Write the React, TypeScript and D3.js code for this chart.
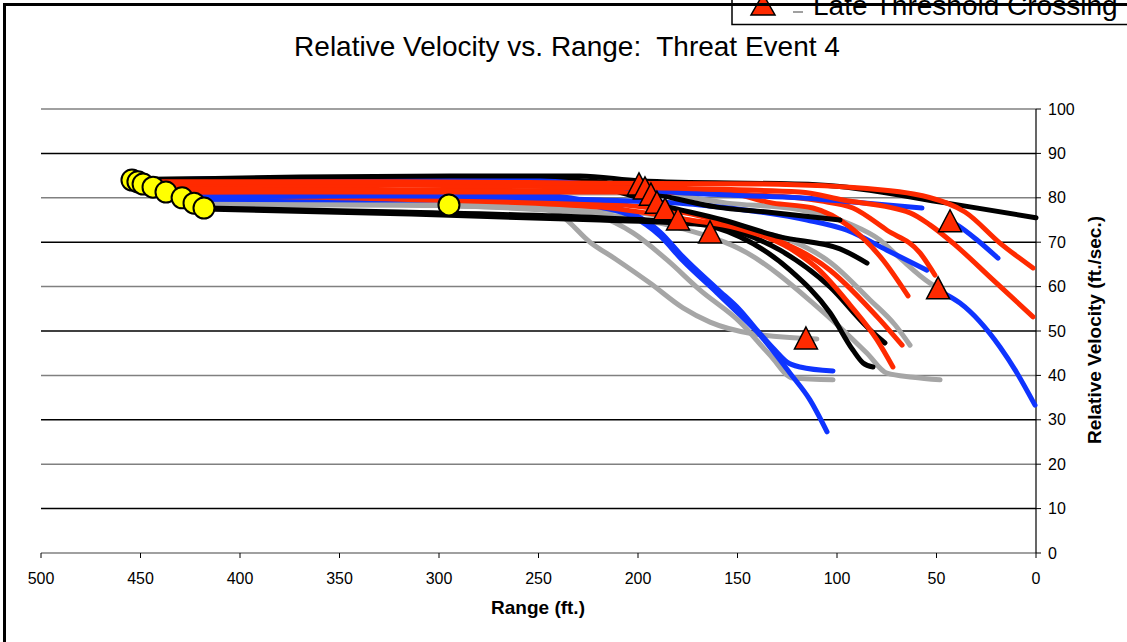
import React from 'react';
import * as d3 from 'd3';

type P = [number, number];

const xTicks = [500, 450, 400, 350, 300, 250, 200, 150, 100, 50, 0];
const yTicks = [0, 10, 20, 30, 40, 50, 60, 70, 80, 90, 100];

// [range ft, relative velocity ft/s]
const black1: P[] = [[454.3, 84.0], [369.8, 84.7], [294.5, 84.9], [229.1, 84.9], [199, 83.8], [108.5, 82.9], [44.7, 78.8], [0, 75.5]];
const red1: P[] = [[451.3, 83.6], [319.6, 83.6], [219.1, 83.3], [138.7, 83.1], [78.4, 81.8], [44.7, 78.8], [35.7, 76.8], [18.1, 69.8], [1.5, 64.2]];
const blue1: P[] = [[454.3, 84.0], [344.7, 84.5], [264.3, 84.2], [219.1, 82.9], [188.9, 81.5], [152.3, 80.6], [118.6, 80.0], [93.5, 79.1], [57.3, 77.7]];
const red2: P[] = [[448.7, 83.1], [319.6, 82.9], [219.1, 82.4], [118.6, 81.3], [97, 79.5], [63.3, 76.6], [53.3, 73.9], [41.7, 69.8], [21.6, 61.5], [1.5, 53.2]];
const gray1: P[] = [[429.1, 80.2], [319.6, 80.6], [244.2, 81.1], [194.0, 81.1], [155.3, 78.8], [118.6, 77.3], [93.5, 74.1], [78.4, 70.5], [68.3, 66.4], [53.3, 60.8], [49.2, 59.7]];
const black2: P[] = [[454.3, 84.2], [269.3, 84.5], [219.1, 83.6], [188.9, 80.6], [160.3, 77.9], [135.2, 76.8], [98.5, 75.0]];
const red3: P[] = [[443.7, 82.4], [319.6, 81.8], [219.1, 81.5], [138.7, 80.6], [108.5, 79.3], [92, 77.7], [74.9, 72.7], [58.3, 67.6], [50.8, 62.6]];
const blue2: P[] = [[429.6, 80.2], [319.6, 80.4], [219.1, 79.5], [168.8, 78.4], [138.7, 76.8], [115.1, 75.0], [95, 72.7], [74.9, 68.2], [54.8, 63.7]];
const black3: P[] = [[447.7, 82.9], [269.3, 83.3], [219.1, 82.2], [188.9, 78.4], [157.3, 75.0], [128.6, 71.2], [98.5, 68.5], [84.9, 65.3]];
const red4: P[] = [[437.2, 81.3], [319.6, 81.3], [219.1, 81.3], [158.8, 81.3], [132.2, 78.8], [112.1, 77.7], [93.5, 73.4], [76.9, 66.0], [64.3, 57.9]];
const gray2: P[] = [[423.1, 78.8], [319.6, 78.4], [219.1, 77.3], [168.8, 74.5], [148.7, 72.7], [128.6, 71.2], [103.5, 65.5], [83.4, 57.0], [70.9, 51.4], [63.3, 46.8]];
const red5: P[] = [[440.2, 81.8], [319.6, 80.4], [219.1, 78.8], [168.8, 75.9], [133.7, 71.2], [103.5, 63.7], [78.4, 52.5], [67.3, 46.8]];
const black4: P[] = [[418.1, 77.7], [319.6, 76.8], [219.1, 75.5], [178.9, 74.5], [158.8, 73.4], [128.6, 68.2], [103.5, 59.9], [84.9, 50.9], [75.9, 47.3]];
const red6: P[] = [[433.7, 80.6], [319.6, 79.7], [219.1, 77.9], [173.9, 75.0], [150.3, 73.2], [120.1, 67.6], [110.1, 64.2], [93.5, 55.9], [79.9, 48.0], [71.9, 41.9]];
const gray3: P[] = [[425.1, 79.5], [319.6, 78.6], [219.1, 76.3], [178.9, 73.2], [145.2, 67.6], [112.1, 56.3], [84.9, 45.0], [74.9, 40.5], [61.8, 39.6], [48.2, 39.0]];
const black5: P[] = [[418.1, 77.5], [319.6, 76.4], [219.1, 75.0], [170.4, 74.1], [148.7, 71.2], [123.6, 63.7], [103.5, 54.1], [92.0, 45.7], [86.9, 42.8], [81.9, 41.9]];
const gray4: P[] = [[295.0, 78.4], [254.3, 77.9], [239.2, 76.1], [224.1, 70.0], [210.6, 66.0], [194.0, 60.8], [177.4, 55.2], [163.8, 52.0], [143.7, 49.5], [110.1, 48.2]];
const blue3: P[] = [[433.7, 80.6], [319.6, 80.4], [244.2, 80.4], [219.1, 78.6], [202.5, 76.4], [188.9, 72.3], [177.4, 66.7], [160.3, 59.5], [148.7, 54.7], [140.2, 50.2], [131.2, 45.7], [125.1, 43.0], [118.6, 41.9], [102.0, 41.0]];
const blue4: P[] = [[425.1, 79.7], [319.6, 79.5], [244.2, 79.5], [219.1, 77.9], [202.5, 75.7], [188.9, 71.4], [177.4, 65.8], [160.3, 58.6], [148.7, 53.6], [138.7, 49.1], [123.6, 40.5], [113.6, 34.5], [105.0, 27.3]];
const gray5: P[] = [[420.1, 78.4], [319.6, 78.4], [244.2, 77.3], [219.1, 75.7], [202.5, 72.1], [185.4, 66.0], [168.8, 59.2], [148.7, 52.0], [133.7, 44.6], [122.1, 39.4], [102.0, 39.0]];
const blue5: P[] = [[43.2, 74.8], [39.7, 73.9], [29.6, 70.5], [19.1, 66.4]];
const blue6: P[] = [[49.2, 59.2], [46.7, 58.6], [38.2, 56.3], [18.1, 46.4], [9.5, 40.5], [0.5, 33.3]];

const startPoints: P[] = [[454.3, 84.0], [451.3, 83.6], [448.7, 83.1], [443.7, 82.4], [437.2, 81.3], [429.1, 80.0], [423.1, 78.8], [418.1, 77.7], [295.0, 78.4]];
const lateCrossings: P[] = [[199.5, 82.9], [196.5, 82.0], [193.5, 80.6], [190.5, 78.8], [186.4, 77.3], [179.9, 75.0], [163.8, 72.1], [115.6, 48.2], [49.2, 59.5], [43.2, 74.6]];

const BLACK = '#000000';
const RED = '#ff2a00';
const BLUE = '#0f34ff';
const GRAY = '#a6a6a6';

const series: { data: P[]; color: string }[] = [
  { data: gray4, color: GRAY },
  { data: gray5, color: GRAY },
  { data: gray3, color: GRAY },
  { data: gray2, color: GRAY },
  { data: gray1, color: GRAY },
  { data: blue3, color: BLUE },
  { data: blue4, color: BLUE },
  { data: black5, color: BLACK },
  { data: black4, color: BLACK },
  { data: red6, color: RED },
  { data: red5, color: RED },
  { data: black3, color: BLACK },
  { data: blue2, color: BLUE },
  { data: red4, color: RED },
  { data: red3, color: RED },
  { data: black2, color: BLACK },
  { data: blue1, color: BLUE },
  { data: red2, color: RED },
  { data: black1, color: BLACK },
  { data: red1, color: RED },
  { data: blue5, color: BLUE },
  { data: blue6, color: BLUE },
];

const W = 1127;
const H = 642;
const font = 'Arial, "Liberation Sans", Helvetica, sans-serif';

export default function App() {
  const x = d3.scaleLinear().domain([500, 0]).range([41, 1036]);
  const y = d3.scaleLinear().domain([0, 100]).range([553, 109]);
  const line = d3
    .line<P>()
    .x((d) => x(d[0]))
    .y((d) => y(d[1]))
    .curve(d3.curveMonotoneX);
  const tri = 'M0,-12L11.5,10L-11.5,10Z';

  return (
    <svg
      width={W}
      height={H}
      style={{ position: 'absolute', left: 0, top: 0, background: '#fff' }}
      fontFamily={font}
    >
      <rect x={0} y={0} width={W} height={H} fill="#fff" />
      {/* gridlines */}
      {yTicks.map((t) => (
        <line
          key={'g' + t}
          x1={x(500)}
          x2={x(0)}
          y1={y(t)}
          y2={y(t)}
          stroke={t % 20 === 0 ? '#808080' : '#000'}
          strokeWidth={1.5}
        />
      ))}
      {/* x ticks */}
      {xTicks.map((t) => (
        <g key={'x' + t}>
          <line x1={x(t)} x2={x(t)} y1={y(0)} y2={y(0) + 5} stroke="#000" strokeWidth={1} />
          <text x={x(t)} y={y(0) + 31} textAnchor="middle" fontSize={16} fill="#000">
            {t}
          </text>
        </g>
      ))}
      {/* right y axis */}
      <line x1={x(0)} x2={x(0)} y1={y(0)} y2={y(100)} stroke="#000" strokeWidth={1.2} />
      {yTicks.map((t) => (
        <g key={'y' + t}>
          <line x1={x(0)} x2={x(0) + 5} y1={y(t)} y2={y(t)} stroke="#000" strokeWidth={1} />
          <text x={x(0) + 12} y={y(t) + 5.5} textAnchor="start" fontSize={16} fill="#000">
            {t}
          </text>
        </g>
      ))}
      {/* series */}
      {series.map((s, i) => (
        <path
          key={'s' + i}
          d={line(s.data) || ''}
          fill="none"
          stroke={s.color}
          strokeWidth={5}
          strokeLinecap="round"
          strokeLinejoin="round"
        />
      ))}
      {/* start markers */}
      {startPoints.map((p, i) => (
        <circle key={'c' + i} cx={x(p[0])} cy={y(p[1])} r={10.5} fill="#ffff00" stroke="#000" strokeWidth={2} />
      ))}
      {/* late threshold crossings */}
      {lateCrossings.map((p, i) => (
        <path
          key={'t' + i}
          d={tri}
          transform={`translate(${x(p[0])},${y(p[1])})`}
          fill={RED}
          stroke="#000"
          strokeWidth={1.5}
        />
      ))}
      {/* titles */}
      <text x={567} y={56} textAnchor="middle" fontSize={28} fill="#000" style={{ whiteSpace: 'pre' }}>
        {'Relative Velocity vs. Range:  Threat Event 4'}
      </text>
      <text x={538} y={614} textAnchor="middle" fontSize={19} fontWeight="bold" fill="#000">
        Range (ft.)
      </text>
      <text
        transform="translate(1101,330) rotate(-90)"
        textAnchor="middle"
        fontSize={19}
        fontWeight="bold"
        fill="#000"
      >
        Relative Velocity (ft./sec.)
      </text>
      {/* legend (clipped at top-right, as in the reference) */}
      <rect x={732} y={-40} width={420} height={64.5} fill="#fff" stroke="#000" strokeWidth={1.5} />
      <path d="M763,-6L775,15L751,15Z" fill={RED} stroke="#000" strokeWidth={1.5} />
      <line x1={793} x2={803} y1={12} y2={12} stroke="#808080" strokeWidth={1.5} />
      <text x={813} y={15} fontSize={28} fill="#000">
        Late Threshold Crossing
      </text>
      {/* outer frame */}
      <rect x={4.5} y={4.5} width={1140} height={660} fill="none" stroke="#000" strokeWidth={3} />
    </svg>
  );
}
